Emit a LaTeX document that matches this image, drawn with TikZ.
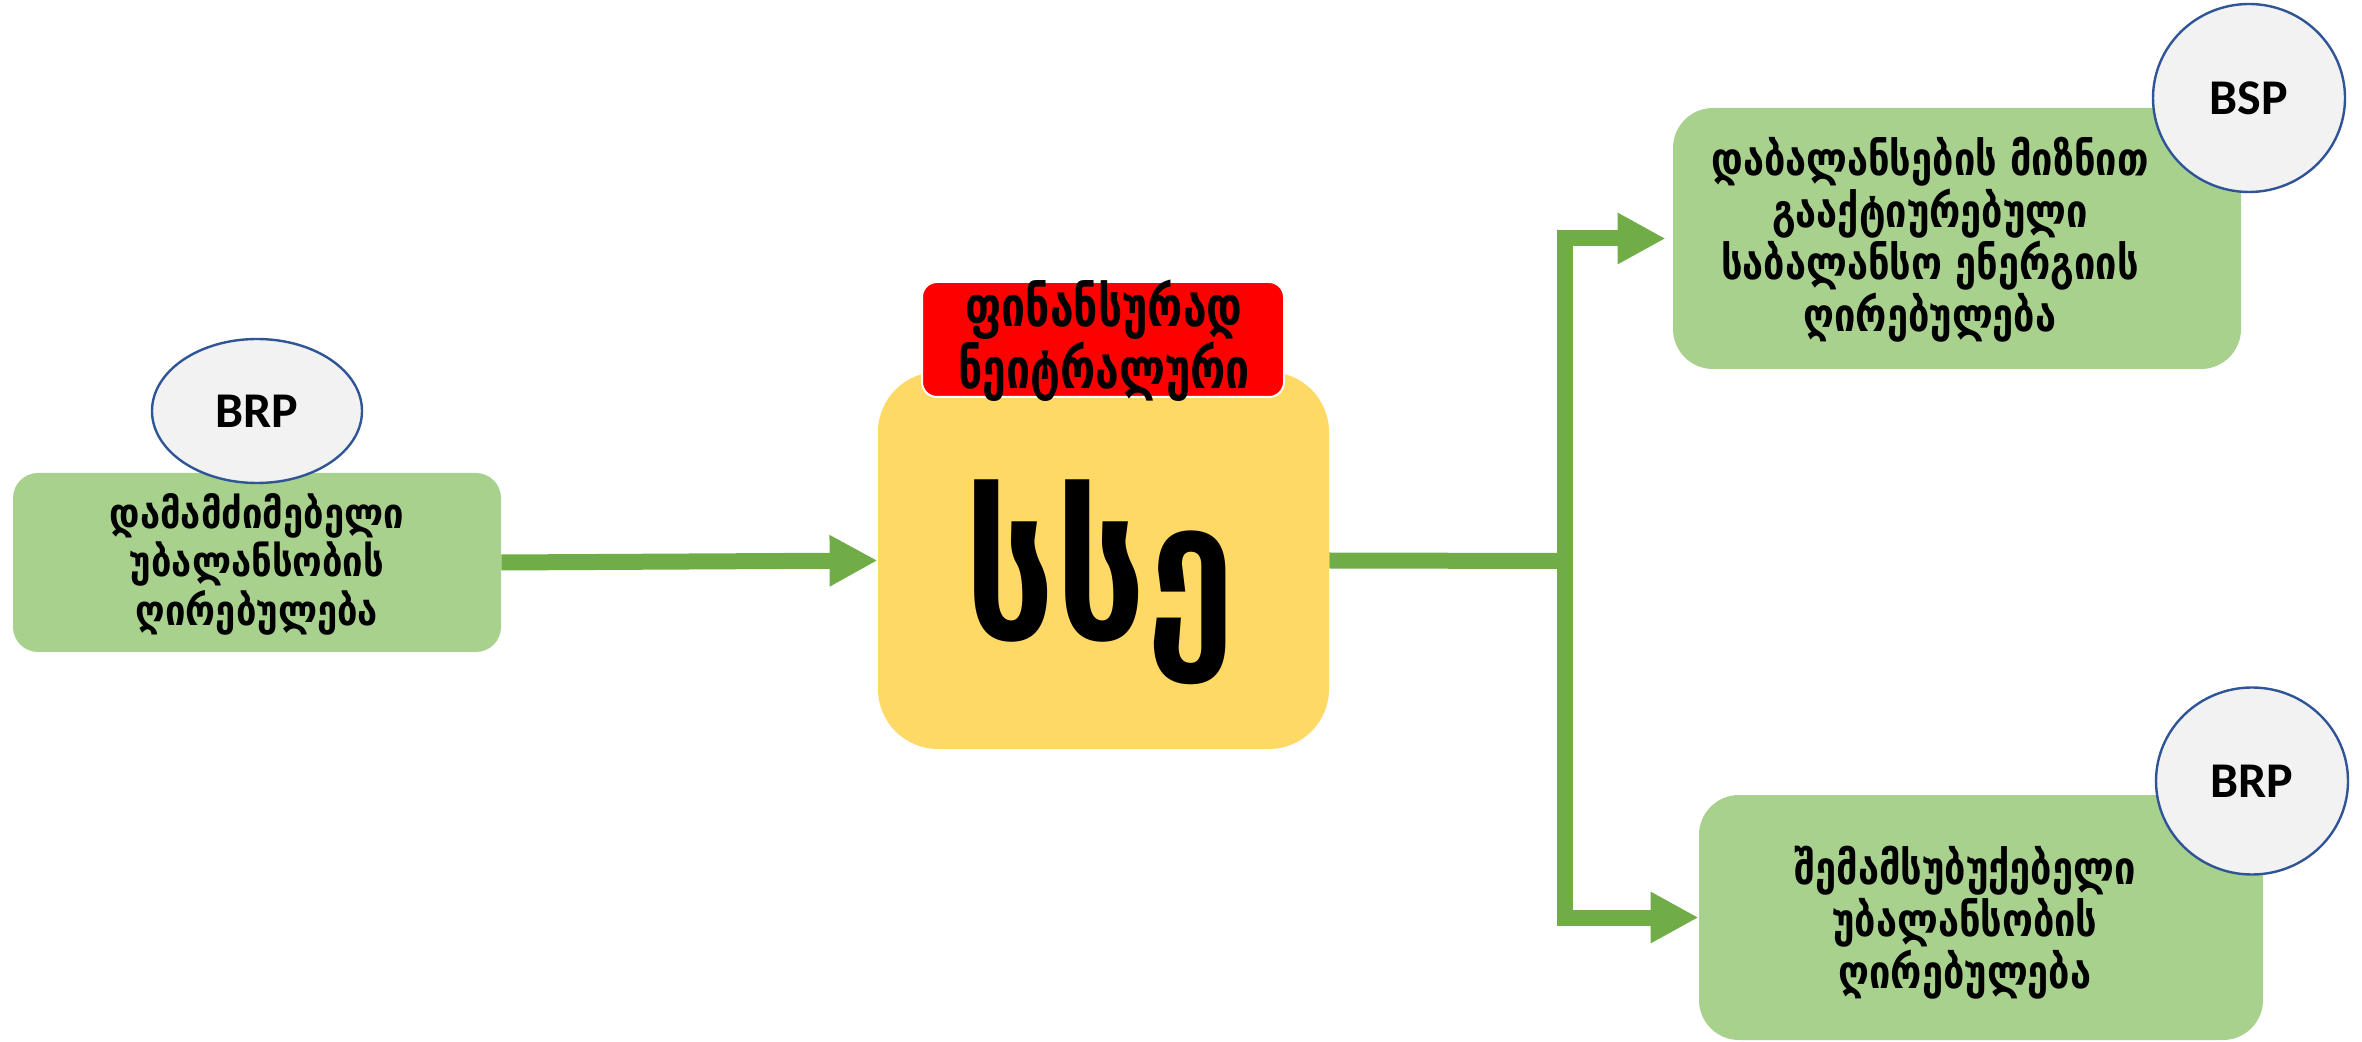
\documentclass[tikz,border=0pt]{standalone}
\usepackage{graphicx}
\usepackage{fontspec}
\setmainfont{DejaVu Sans}
\newfontfamily\calib{Carlito}
\usetikzlibrary{shapes.geometric,arrows.meta}

\definecolor{boxgreen}{HTML}{A9D18E}
\definecolor{arrowgreen}{HTML}{70AD47}
\definecolor{gold}{HTML}{FFD966}
\definecolor{tagred}{HTML}{FF0000}
\definecolor{ovalfill}{HTML}{F2F2F2}
\definecolor{ovalline}{HTML}{2F5597}

% centred lines of text, stretched upright
\newcommand\tallcell[2][1.22]{\scalebox{1}[#1]{\begin{tabular}{@{}c@{}}#2\end{tabular}}}

\begin{document}
\begin{tikzpicture}[x=0.5pt,y=-0.5pt,
  greenbox/.style={rectangle, rounded corners=#1, fill=boxgreen, inner sep=0pt},
  oval/.style={ellipse, fill=ovalfill, draw=ovalline, line width=1.2pt, inner sep=0pt,
    font=\calib\bfseries\fontsize{25}{30}\selectfont},
  txt/.style={inner sep=0pt, font=\bfseries\fontsize{#1}{18.2}\selectfont},
  flow/.style={draw=arrowgreen, line width=8pt, line join=miter,
    -{Triangle[length=24pt,width=24pt]}},
  bar/.style={draw=arrowgreen, line width=8pt, line join=miter}
]
\useasboundingbox (0,0) rectangle (2362,1042);

% left input box with its BRP tag
\node[greenbox=12.5pt, minimum width=244pt, minimum height=89.5pt] (lbox) at (257,562.5) {};
\node[inner sep=0pt, font=\bfseries\fontsize{18.2}{19.1}\selectfont] (ltext) at (257,566) {\tallcell[1.16]{დამამძიმებელი\\უბალანსობის\\ღირებულება}};
\node[oval, minimum width=105pt, minimum height=72pt] (lbrp) at (257,411) {BRP};

% central settlement box with the red tag on top
\node[rectangle, rounded corners=30pt, fill=gold, minimum width=225.5pt, minimum height=188.5pt] (ybox) at (1103.5,560.5) {};
\node[inner sep=0pt, font=\bfseries\fontsize{80}{90}\selectfont] (ytext) at (1100,582) {\scalebox{1}[1.22]{სსე}};
\node[rectangle, rounded corners=7.5pt, fill=tagred, draw=white, line width=1pt,
  minimum width=181pt, minimum height=57.5pt] (rbox) at (1103,339.5) {};
\node[inner sep=0pt, font=\bfseries\fontsize{21.4}{19.8}\selectfont] (rtext) at (1104,342) {\tallcell[1.31]{ფინანსურად\\ნეიტრალური}};

% upper right output box with BSP tag
\node[greenbox=20pt, minimum width=284pt, minimum height=130.5pt] (trbox) at (1957,238.5) {};
\node[txt=19] (trtext) at (1930,241) {\tallcell{დაბალანსების მიზნით\\გააქტიურებული\\საბალანსო ენერგიის\\ღირებულება}};
\node[oval, minimum width=96pt, minimum height=94pt] (bsp) at (2249,98) {BSP};

% lower right output box with BRP tag
\node[greenbox=20pt, minimum width=282pt, minimum height=122.5pt] (brbox) at (1981,917.5) {};
\node[txt=19] (brtext) at (1965,924) {\tallcell{შემამსუბუქებელი\\უბალანსობის\\ღირებულება}};
\node[oval, minimum width=96pt, minimum height=93.5pt] (rbrp) at (2252,781) {BRP};

% connectors
\coordinate (junc) at (1565,561);
\draw[flow] (lbox.east) -- (ybox.west);
\draw[bar] (ybox.east) -- (junc);
\draw[flow, shorten >=3.5pt] (junc) |- (trbox.west);
\draw[flow] (junc) |- (brbox.west);
\end{tikzpicture}
\end{document}
